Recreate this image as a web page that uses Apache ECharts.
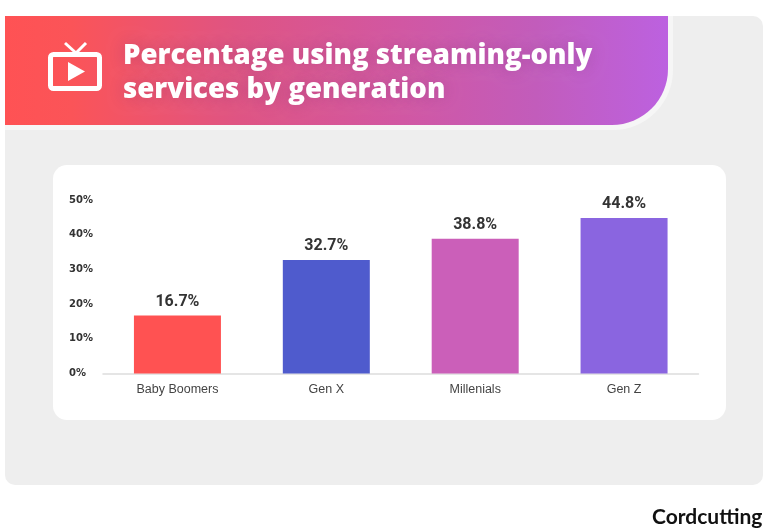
<!DOCTYPE html>
<html>
<head>
<meta charset="utf-8">
<title>Percentage using streaming-only services by generation</title>
<script src="https://cdn.jsdelivr.net/npm/echarts@6/dist/echarts.min.js"></script>
<style>
    html, body { margin: 0; padding: 0; background: #fff; }
    #chart { width: 764px; height: 529px; }
</style>
</head>
<body>
<div id="chart"></div>
<script>
// Chart data
const titleLines = ['Percentage using streaming-only', 'services by generation'];
const generations = ['Baby Boomers', 'Gen X', 'Millenials', 'Gen Z'];
const shares = [16.7, 32.7, 38.8, 44.8];
const barColors = ['#ff5252', '#4f5bcd', '#cb5fb9', '#8a65e0'];
const brandName = 'Cordcutting';

const chart = echarts.init(document.getElementById('chart'), null, { renderer: 'canvas' });

// Background panel, banner, card and TV icon
const backdrop = [
    { type: 'rect', z: -10, shape: { x: 5, y: 16, width: 758, height: 469, r: 10 }, style: { fill: '#eeeeee' } },
    { type: 'rect', z: -9, shape: { x: 5, y: 16, width: 668, height: 114, r: [0, 0, 60, 0] }, style: { fill: '#f6f6f6' } },
    {
        type: 'rect', z: -8,
        shape: { x: 5, y: 16, width: 663, height: 109, r: [0, 0, 56, 0] },
        style: {
            fill: new echarts.graphic.LinearGradient(0, 0, 1, 0, [
                { offset: 0, color: '#ff5254' },
                { offset: 0.1, color: '#fb5458' },
                { offset: 0.35, color: '#df5483' },
                { offset: 0.6, color: '#d157a3' },
                { offset: 0.8, color: '#c25cbb' },
                { offset: 1, color: '#bc61e0' }
            ])
        }
    },
    { type: 'rect', z: -7, shape: { x: 53, y: 165, width: 673, height: 255, r: 14 }, style: { fill: '#ffffff' } },
    // TV icon
    { type: 'rect', z: 5, shape: { x: 50.5, y: 54.5, width: 49, height: 34, r: 3 }, style: { fill: 'none', stroke: '#ffffff', lineWidth: 5 } },
    { type: 'line', z: 5, shape: { x1: 65, y1: 43, x2: 76, y2: 53 }, style: { stroke: '#ffffff', lineWidth: 3 } },
    { type: 'line', z: 5, shape: { x1: 86, y1: 43, x2: 76, y2: 53 }, style: { stroke: '#ffffff', lineWidth: 3 } },
    { type: 'polygon', z: 5, shape: { points: [[68, 62], [85, 71.5], [68, 81]] }, style: { fill: '#ffffff' } },
    // Brand mark
    {
        type: 'text', z: 5, x: 652, y: 517,
        style: { text: brandName, fill: '#111111', fontFamily: 'Lato, sans-serif', fontWeight: 700, fontSize: 21, verticalAlign: 'middle' }
    }
];

const option = {
    animation: false,
    backgroundColor: '#ffffff',
    title: {
        text: titleLines.join('\n'),
        left: 118,
        top: 34.5,
        textStyle: {
            color: '#ffffff',
            fontFamily: '"Open Sans", sans-serif',
            fontWeight: 800,
            fontSize: 27.6,
            lineHeight: 34,
            textShadowColor: 'rgba(110, 40, 110, 0.3)',
            textShadowBlur: 16
        }
    },
    graphic: backdrop,
    grid: { left: 103, right: 65.5, top: 200, height: 173.5 },
    xAxis: {
        type: 'category',
        data: generations,
        axisTick: { show: false },
        axisLine: { lineStyle: { color: '#dddddd', width: 1.5 } },
        axisLabel: {
            color: '#444444',
            fontFamily: '"Liberation Sans", Arial, sans-serif',
            fontSize: 12.5,
            margin: 10
        }
    },
    yAxis: {
        type: 'value',
        min: 0,
        max: 50,
        interval: 10,
        axisLine: { show: false },
        axisTick: { show: false },
        splitLine: { show: false },
        axisLabel: {
            formatter: '{value}%',
            color: '#333333',
            fontFamily: '"DejaVu Sans", sans-serif',
            fontWeight: 'bold',
            fontSize: 10,
            align: 'left',
            margin: 34
        }
    },
    series: [
        {
            type: 'bar',
            barWidth: 87,
            data: shares.map((value, i) => ({ value, itemStyle: { color: barColors[i] } })),
            label: {
                show: true,
                position: 'top',
                distance: 6,
                formatter: '{c}%',
                color: '#333333',
                fontFamily: 'Roboto, sans-serif',
                fontWeight: 'bold',
                fontSize: 16
            }
        }
    ]
};

chart.setOption(option);
</script>
</body>
</html>
